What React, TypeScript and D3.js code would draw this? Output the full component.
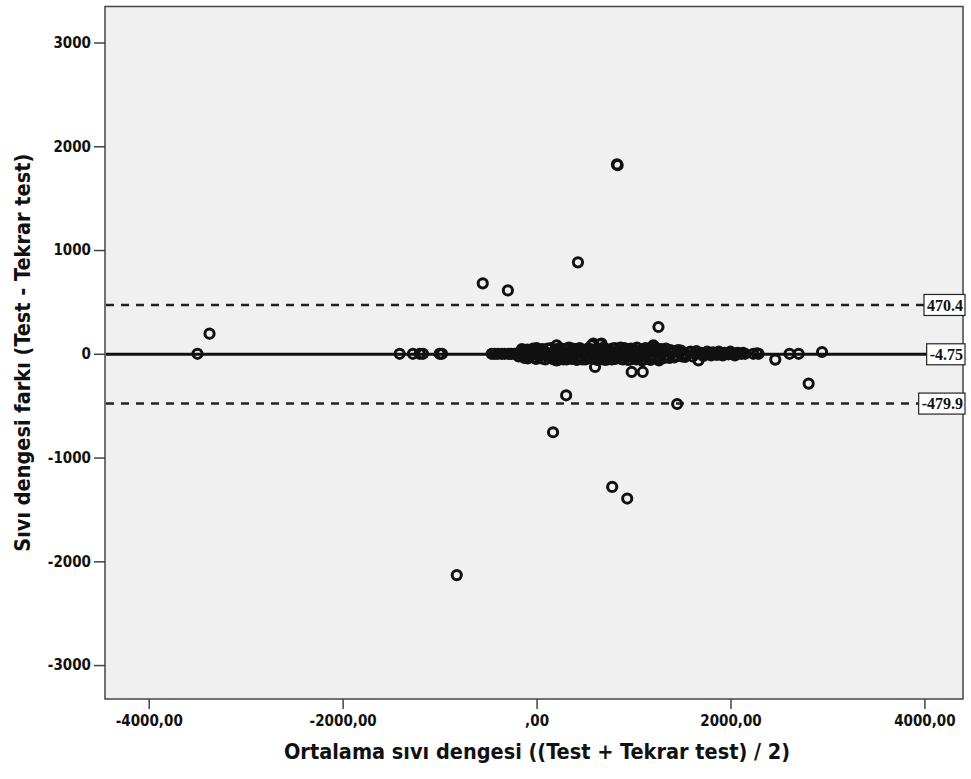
import React, { useEffect, useRef } from 'react';
import * as d3 from 'd3';

// Bland-Altman: mean of the two measurements vs difference
const xTicks = [-4000, -2000, 0, 2000, 4000];
const yTicks = [-3000, -2000, -1000, 0, 1000, 2000, 3000];

const meanDiff = -4.75;
const upperLimit = 470.4;
const lowerLimit = -479.9;

// points away from the zero band
const outlierPoints: [number, number][] = [
  [-3497, 0], [-3373, 194],
  [-555, 679], [-296, 611], [427, 881],
  [829, 1825], [836, 1818],
  [1257, 258],
  [305, -400], [170, -756], [780, -1283], [935, -1395], [-823, -2133],
  [1450, -484], [2806, -287], [2462, -56],
  [981, -175], [1095, -175], [603, -127],
];

// points on / near the zero line
const bandPoints: [number, number][] = [
  [-1412, 0], [-1275, 0], [-1205, 0], [-1171, 0], [-1000, 0], [-975, 0],
  [-463, 0], [-430, 0], [-400, 0], [-360, 0], [-330, 0], [-290, 0], [-260, 0], [-230, 0],
  [-200, 0], [-170, 20], [-140, -10], [-110, 10], [-80, -20], [-50, 0],
  [-20, 15], [10, -10], [40, 0], [70, 25], [100, -15], [130, 5],
  [160, -30], [190, 30], [207, 82], [207, -63], [230, 0], [250, -20],
  [270, 20], [300, -35], [320, 10], [350, -10], [380, 30], [400, 0],
  [430, -25], [460, 15], [490, -5], [510, 30], [540, -30], [568, 82],
  [585, 98], [610, 0], [640, 20], [654, 91], [670, 98], [680, -30],
  [700, 10], [730, -20], [760, 30], [790, 0], [820, -40], [850, 20],
  [880, -10], [900, 35], [930, -30], [960, 10], [990, -15], [1020, 25],
  [1050, -35], [1085, -63], [1100, 0], [1130, 30], [1160, -20], [1200, 65],
  [1205, 82], [1230, 10], [1262, -63], [1290, 0], [1320, 20], [1350, -15],
  [1390, 5], [1430, -20], [1470, 15], [1510, 0], [1550, -10], [1590, 20],
  [1630, 0], [1670, -63], [1700, 10], [1740, -5], [1780, 0], [1820, 15],
  [1860, -10], [1900, 0], [1940, 10], [1980, -5], [2020, 0], [2070, 10],
  [2110, 0], [2236, 0], [2273, 5], [2290, 0], [2609, 0], [2703, 0], [2944, 17],
  [-185, -25], [-155, 20], [-125, -40], [-95, 40], [-65, -20], [-35, 50],
  [-5, -50], [25, 35], [55, -45], [85, 20], [115, 50], [145, -35],
  [175, -55], [200, 40], [220, -60], [240, 55], [260, -10], [285, 45],
  [310, -55], [335, 60], [365, -50], [390, 30], [415, -60], [445, 55],
  [475, -55], [500, 25], [525, -45], [555, 45], [595, -50], [625, -60],
  [655, 40], [690, 60], [715, -60], [745, 30], [775, -55], [805, 55],
  [835, -40], [865, 60], [890, -55], [915, 35], [945, -60], [975, 50],
  [1005, -40], [1035, 60], [1065, 20], [1115, -55], [1145, 40], [1175, -60],
  [1215, -35], [1245, 50], [1275, -45], [1305, 30], [1335, 50], [1370, -40],
  [1410, 25], [1450, -20], [1490, 30], [1530, -30], [1570, 15], [1610, -25],
  [1650, 25], [1690, 0], [1720, -20], [1760, 20], [1800, -15], [1840, 5],
  [1880, 20], [1920, -15], [1960, 5], [2000, 20], [2045, -15], [2090, 5],
  [2130, 10], [2150, 0],
  [-150, 45], [-120, 25], [-90, -45], [-60, 35], [-30, -35], [0, 55],
  [30, -20], [60, 45], [90, -55], [120, -25], [150, 55], [180, 10],
  [215, 25], [245, -40], [275, -55], [305, 50], [340, -30], [370, 50],
  [405, 45], [440, -45], [470, 40], [505, -55], [530, 50], [560, -40],
  [590, 35], [620, 50], [650, -45], [685, -55], [720, 45], [750, -45],
  [780, 50], [810, -50], [845, -25], [875, -50], [905, 55], [940, 45],
  [970, -55], [1000, 45], [1030, -55], [1060, -40], [1090, 45], [1125, 55],
  [1155, -45], [1185, 45], [1225, 55], [1255, -30], [1285, 45], [1315, -40],
  [1345, -30], [1380, 35], [1420, -35], [1460, 35], [1500, -25],
];

const xTitle = 'Ortalama sıvı dengesi ((Test + Tekrar test) / 2)';
const yTitle = 'Sıvı dengesi farkı (Test - Tekrar test)';

const W = 971;
const H = 779;
const plot = { left: 105, right: 963, top: 6.5, bottom: 699 };

const fmtX = (v: number) => (v === 0 ? ',00' : `${v},00`);

export default function App() {
  const ref = useRef<SVGSVGElement | null>(null);

  useEffect(() => {
    const svg = d3.select(ref.current);
    svg.selectAll('*').remove();

    const x = d3.scaleLinear().domain([-4451, 4398]).range([plot.left, plot.right]);
    const y = d3.scaleLinear().domain([3347, -3327]).range([plot.top, plot.bottom]);

    const axisColor = '#444';
    const condensed = "'DejaVu Sans Condensed', 'DejaVu Sans', sans-serif";

    // plot background
    svg.append('rect')
      .attr('x', plot.left)
      .attr('y', plot.top)
      .attr('width', plot.right - plot.left)
      .attr('height', plot.bottom - plot.top)
      .attr('fill', '#f0f0f0')
      .attr('stroke', axisColor)
      .attr('stroke-width', 1.5);

    // x axis
    const gx = svg.append('g')
      .attr('transform', `translate(0,${plot.bottom})`)
      .call(d3.axisBottom(x).tickValues(xTicks).tickSize(10).tickSizeOuter(0).tickPadding(6).tickFormat((d) => fmtX(+d)));
    gx.select('.domain').remove();
    gx.selectAll('line').attr('stroke', axisColor).attr('stroke-width', 1.5);
    gx.selectAll('text')
      .attr('font-family', condensed)
      .attr('font-weight', 'bold')
      .attr('font-size', 15)
      .attr('fill', '#111');

    // y axis
    const gy = svg.append('g')
      .attr('transform', `translate(${plot.left},0)`)
      .call(d3.axisLeft(y).tickValues(yTicks).tickSize(11).tickSizeOuter(0).tickPadding(3).tickFormat((d) => String(d)));
    gy.select('.domain').remove();
    gy.selectAll('line').attr('stroke', axisColor).attr('stroke-width', 1.5);
    gy.selectAll('text')
      .attr('font-family', condensed)
      .attr('font-weight', 'bold')
      .attr('font-size', 15)
      .attr('fill', '#111');

    const marks = svg.append('g');

    // limits of agreement
    [upperLimit, lowerLimit].forEach((v) => {
      marks.append('line')
        .attr('x1', plot.left + 1)
        .attr('x2', plot.right)
        .attr('y1', y(v))
        .attr('y2', y(v))
        .attr('stroke', '#222')
        .attr('stroke-width', 2.5)
        .attr('stroke-dasharray', '8,7');
    });
    marks.append('line')
      .attr('x1', plot.left + 1)
      .attr('x2', plot.right)
      .attr('y1', y(meanDiff))
      .attr('y2', y(meanDiff))
      .attr('stroke', '#111')
      .attr('stroke-width', 3);

    // points
    const allPoints = bandPoints.concat(outlierPoints);
    marks.selectAll('circle.pt')
      .data(allPoints)
      .enter()
      .append('circle')
      .attr('class', 'pt')
      .attr('cx', (d) => x(d[0]))
      .attr('cy', (d) => y(d[1]))
      .attr('r', 4.6)
      .attr('fill', 'none')
      .attr('stroke', '#111')
      .attr('stroke-width', 3);

    // line labels
    [upperLimit, meanDiff, lowerLimit].forEach((v) => {
      const g = svg.append('g');
      const t = g.append('text')
        .attr('x', plot.right)
        .attr('y', y(v))
        .attr('dy', '0.35em')
        .attr('text-anchor', 'end')
        .attr('font-family', "'Liberation Serif', 'Times New Roman', serif")
        .attr('font-weight', 'bold')
        .attr('font-size', 16)
        .attr('fill', '#111')
        .text(String(v));
      const bb = (t.node() as SVGTextElement).getBBox();
      g.insert('rect', 'text')
        .attr('x', bb.x - 3)
        .attr('y', y(v) - 10.5)
        .attr('width', bb.width + 5)
        .attr('height', 21)
        .attr('fill', '#fff')
        .attr('stroke', '#222')
        .attr('stroke-width', 1.2);
    });

    // axis titles
    svg.append('text')
      .attr('x', (plot.left + plot.right) / 2 + 3)
      .attr('y', 759)
      .attr('text-anchor', 'middle')
      .attr('font-family', condensed)
      .attr('font-weight', 'bold')
      .attr('font-size', 21.5)
      .attr('fill', '#111')
      .text(xTitle);

    svg.append('text')
      .attr('transform', `translate(30,${(plot.top + plot.bottom) / 2}) rotate(-90)`)
      .attr('text-anchor', 'middle')
      .attr('font-family', condensed)
      .attr('font-weight', 'bold')
      .attr('font-size', 21.5)
      .attr('fill', '#111')
      .text(yTitle);
  }, []);

  return (
    <div style={{ position: 'absolute', left: 0, top: 0 }}>
      <svg ref={ref} width={W} height={H} style={{ display: 'block', background: '#fff' }} />
    </div>
  );
}
